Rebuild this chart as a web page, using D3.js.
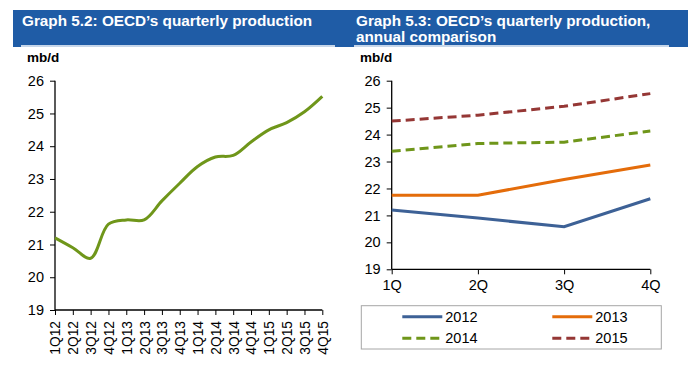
<!DOCTYPE html>
<html>
<head>
<meta charset="utf-8">
<script src="https://cdn.jsdelivr.net/npm/d3@7"></script>
<style>
  body { margin: 0; background: #fff; }
  svg { display: block; font-family: Arial, "Liberation Sans", sans-serif; }
</style>
</head>
<body>
<svg width="688" height="375"></svg>
<script>
// quarterly OECD production, mb/d
const quarters = ['1Q', '2Q', '3Q', '4Q'];
const years = ['2012', '2013', '2014', '2015'];
const y2012 = [21.2, 20.9, 20.58, 21.62];
const y2013 = [21.75, 21.75, 22.33, 22.87];
const y2014 = [23.38, 23.67, 23.72, 24.13];
const y2015 = [24.5, 24.72, 25.05, 25.52];
const yTicks = [19, 20, 21, 22, 23, 24, 25, 26];

const colors = ['#3d6196', '#e46c0a', '#6f961a', '#953735'];
const dashed = [false, false, true, true];
const series = [y2012, y2013, y2014, y2015];

// left chart uses the same numbers, one after another
let quarterLabels = [];
let production = [];
years.forEach((yr, i) => {
  quarters.forEach((q, j) => {
    quarterLabels.push(q + yr.slice(2));
    production.push(series[i][j]);
  });
});

const svg = d3.select('svg');

// title banner
svg.append('rect').attr('x', 13).attr('y', 10).attr('width', 675).attr('height', 37).attr('fill', '#1f5ca6');
svg.append('line').attr('x1', 21).attr('x2', 335).attr('y1', 46).attr('y2', 46).attr('stroke', '#fff').attr('stroke-width', 1.5);
svg.append('line').attr('x1', 354).attr('x2', 669).attr('y1', 46).attr('y2', 46).attr('stroke', '#fff').attr('stroke-width', 1.5);

const titleStyle = (t) => t.attr('fill', '#fff').attr('font-weight', 'bold').attr('font-size', 15.3);
svg.append('text').attr('x', 22).attr('y', 26).text('Graph 5.2: OECD’s quarterly production').call(titleStyle);
svg.append('text').attr('x', 356).attr('y', 26).text('Graph 5.3: OECD’s quarterly production,').call(titleStyle);
svg.append('text').attr('x', 356).attr('y', 42).text('annual comparison').call(titleStyle);

svg.append('text').attr('x', 27).attr('y', 62).attr('font-weight', 'bold').attr('font-size', 13.5).text('mb/d');
svg.append('text').attr('x', 360).attr('y', 62).attr('font-weight', 'bold').attr('font-size', 13.5).text('mb/d');

// ---- left chart
const x1 = d3.scalePoint().domain(quarterLabels).range([55, 322.3]);
const y1 = d3.scaleLinear().domain([19, 26]).range([310, 80.7]);

const gLeftY = svg.append('g').attr('transform', 'translate(55,0)')
  .call(d3.axisLeft(y1).tickValues(yTicks).tickFormat(d3.format('d')).tickSize(5).tickPadding(6));
const gLeftX = svg.append('g').attr('transform', 'translate(0,310)')
  .call(d3.axisBottom(x1).tickSize(5).tickPadding(0));
gLeftX.selectAll('text')
  .attr('transform', 'rotate(-90)')
  .attr('text-anchor', 'end')
  .attr('x', -11)
  .attr('y', 0)
  .attr('dy', '0.36em')
  .attr('font-size', 13.8);

svg.append('path')
  .datum(production)
  .attr('fill', 'none')
  .attr('stroke', colors[2])
  .attr('stroke-width', 3)
  .attr('d', d3.line().x((d, i) => x1(quarterLabels[i])).y(d => y1(d)).curve(d3.curveCatmullRom.alpha(0.5)));

// ---- right chart
const x2 = d3.scalePoint().domain(quarters).range([391.7, 650.3]);
const y2 = d3.scaleLinear().domain([19, 26]).range([269.3, 80.7]);

const gRightY = svg.append('g').attr('transform', 'translate(391.7,0)')
  .call(d3.axisLeft(y2).tickValues(yTicks).tickFormat(d3.format('d')).tickSize(5).tickPadding(6));
const gRightX = svg.append('g').attr('transform', 'translate(0,269.3)')
  .call(d3.axisBottom(x2).tickSize(5).tickPadding(5));
gRightX.selectAll('text').attr('font-size', 14.5);

series.forEach((s, i) => {
  svg.append('path')
    .datum(s)
    .attr('fill', 'none')
    .attr('stroke', colors[i])
    .attr('stroke-width', 3)
    .attr('stroke-dasharray', dashed[i] ? '9,5' : null)
    .attr('d', d3.line().x((d, j) => x2(quarters[j])).y(d => y2(d)));
});

// axis styling
[gLeftY, gLeftX, gRightY, gRightX].forEach((g) => {
  g.selectAll('.domain').attr('stroke', '#000').attr('stroke-width', 1.3);
  g.selectAll('.tick line').attr('stroke', '#000');
  g.selectAll('text').attr('fill', '#000').attr('font-family', 'Arial, "Liberation Sans", sans-serif');
});
[gLeftY, gRightY].forEach((g) => g.selectAll('text').attr('font-size', 14.5));
// no outer tick stubs on the axis ends
gLeftY.select('.domain').attr('d', 'M0,80.7V310');
gRightY.select('.domain').attr('d', 'M0,80.7V269.3');
gLeftX.select('.domain').attr('d', 'M55,0H322.3');
gRightX.select('.domain').attr('d', 'M391.7,0H650.3');

// legend
svg.append('rect')
  .attr('x', 361.3).attr('y', 305.7).attr('width', 300).attr('height', 43.3)
  .attr('fill', '#fff').attr('stroke', '#a6a6a6').attr('stroke-width', 1);
const legendX = [402.3, 552.3];
const legendY = [316.7, 338.3];
years.forEach((yr, i) => {
  const lx = legendX[i % 2];
  const ly = legendY[Math.floor(i / 2)];
  svg.append('line')
    .attr('x1', lx).attr('x2', lx + 40).attr('y1', ly).attr('y2', ly)
    .attr('stroke', colors[i]).attr('stroke-width', 3)
    .attr('stroke-dasharray', dashed[i] ? '9,5' : null);
  svg.append('text')
    .attr('x', lx + 43).attr('y', ly).attr('dy', '0.35em')
    .attr('font-size', 14.5).text(yr);
});
</script>
</body>
</html>
